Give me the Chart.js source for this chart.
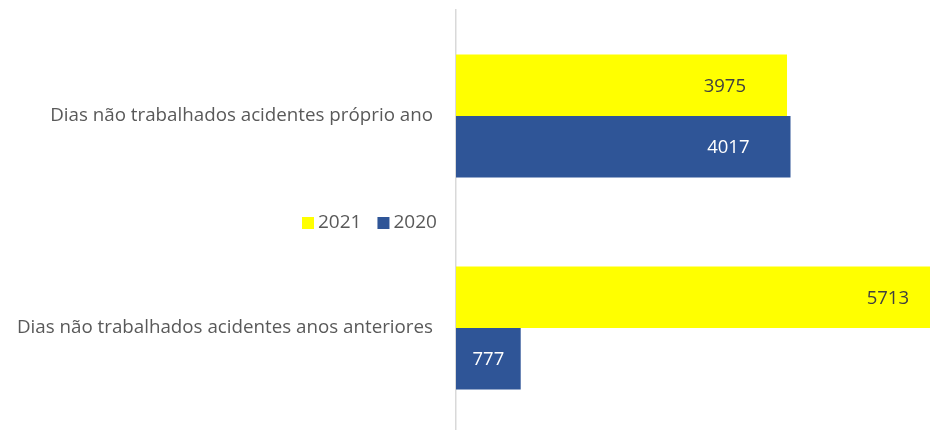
<!DOCTYPE html>
<html>
<head>
<meta charset="utf-8">
<script src="https://cdn.jsdelivr.net/npm/chart.js@4"></script>
<style>
html,body{margin:0;padding:0;background:#fff;overflow:hidden;}
#wrap{width:930px;height:430px;overflow:hidden;}
</style>
</head>
<body>
<div id="wrap"><canvas id="c" width="930" height="434"></canvas></div>
<script>
const categories = ["Dias não trabalhados acidentes próprio ano", "Dias não trabalhados acidentes anos anteriores"];
const seriesNames = ["2021", "2020"];
const values2021 = [3975, 5713];
const values2020 = [4017, 777];
const seriesColors = ["#FFFF00", "#2F5597"];
const labelColors = ["#404040", "#FFFFFF"];

const FONT = "'Open Sans', 'Noto Sans', sans-serif";

const valueLabels = {
  id: "valueLabels",
  afterDatasetsDraw(chart) {
    const ctx = chart.ctx;
    const area = chart.chartArea;
    ctx.save();
    ctx.font = "18.5px " + FONT;
    ctx.textBaseline = "middle";
    chart.data.datasets.forEach((ds, di) => {
      const meta = chart.getDatasetMeta(di);
      meta.data.forEach((bar, i) => {
        const txt = String(ds.data[i]);
        const w = ctx.measureText(txt).width;
        const end = Math.min(bar.x, area.right);
        const start = bar.base;
        ctx.fillStyle = labelColors[di];
        if (end - start < w + 70) {
          ctx.textAlign = "center";
          ctx.fillText(txt, (start + end) / 2, bar.y + 1);
        } else {
          ctx.textAlign = "right";
          const r = bar.x > area.right ? area.right - 21 : end - 41;
          ctx.fillText(txt, r, bar.y + 1);
        }
      });
    });
    ctx.restore();
  }
};

const midLegend = {
  id: "midLegend",
  afterDraw(chart) {
    const ctx = chart.ctx;
    const y = chart.scales.y.getPixelForValue(0.5) + 1;
    ctx.save();
    ctx.font = "19px " + FONT;
    ctx.textBaseline = "middle";
    ctx.textAlign = "left";
    let x = 302;
    chart.data.datasets.forEach((ds) => {
      ctx.fillStyle = ds.backgroundColor;
      ctx.fillRect(x, y - 6, 12, 12);
      x += 16;
      ctx.fillStyle = "#595959";
      ctx.fillText(ds.label, x, y);
      x += ctx.measureText(ds.label).width + 16;
    });
    ctx.restore();
  }
};

new Chart(document.getElementById("c"), {
  type: "bar",
  data: {
    labels: categories,
    datasets: [
      { label: seriesNames[0], data: values2021, backgroundColor: seriesColors[0] },
      { label: seriesNames[1], data: values2020, backgroundColor: seriesColors[1] }
    ]
  },
  options: {
    indexAxis: "y",
    responsive: false,
    animation: false,
    layout: { padding: { top: 10, right: 0, bottom: 0, left: 0 } },
    datasets: { bar: { categoryPercentage: 0.58, barPercentage: 1.0 } },
    plugins: { legend: { display: false }, tooltip: { enabled: false } },
    scales: {
      x: { display: false, min: 0, max: 5692 },
      y: {
        grid: { display: false, drawTicks: false },
        border: { color: "#D9D9D9", width: 1.5 },
        ticks: { color: "#595959", font: { family: FONT, size: 18.75 }, padding: 23 },
        afterFit(s) { s.width = 456; s.paddingTop = 0; s.paddingBottom = 0; }
      }
    }
  },
  plugins: [valueLabels, midLegend]
});
</script>
</body>
</html>
